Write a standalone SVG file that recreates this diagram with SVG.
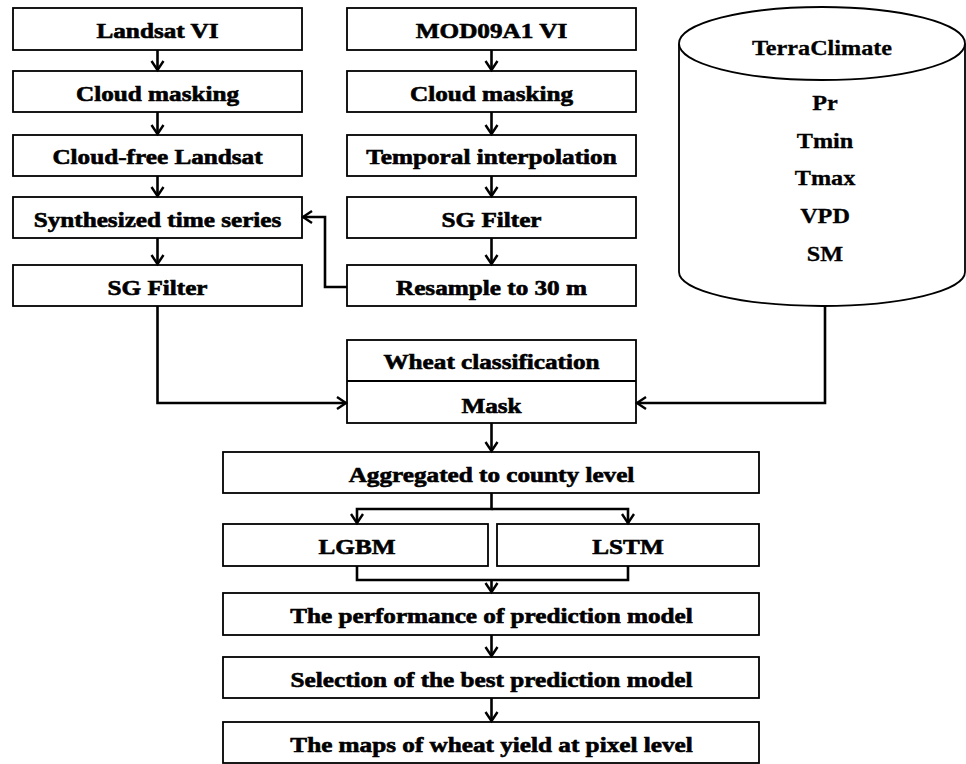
<svg xmlns="http://www.w3.org/2000/svg" width="966" height="764" viewBox="0 0 966 764">
<style>
.box{fill:#fff;stroke:#000;stroke-width:1.8}
.t{font-family:"Liberation Serif","Times New Roman",serif;font-weight:bold;font-size:21px;text-anchor:middle;fill:#000;stroke:#000;stroke-width:0.6}
.c{font-family:"Liberation Serif","Times New Roman",serif;font-weight:bold;font-size:22px;text-anchor:middle;fill:#000;stroke:#000;stroke-width:0.3}
.ln{fill:none;stroke:#000;stroke-width:2.6}
</style>
<defs>
<marker id="ah" markerUnits="userSpaceOnUse" markerWidth="14" markerHeight="16" refX="10" refY="7" orient="auto">
<path d="M1,1 L10,7 L1,13" fill="none" stroke="#000" stroke-width="2.4"/>
</marker>
</defs>
<rect width="966" height="764" fill="#fff"/>

<g id="landsat_vi"><rect class="box" x="13" y="8" width="289" height="42"/><text class="t" transform="translate(157.5,38) scale(1.2,1)">Landsat VI</text></g>
<g id="cloud_masking_l"><rect class="box" x="13" y="71" width="289" height="41"/><text class="t" transform="translate(157.5,100.5) scale(1.2,1)">Cloud masking</text></g>
<g id="cloud_free"><rect class="box" x="13" y="135" width="289" height="41"/><text class="t" transform="translate(157.5,164) scale(1.2,1)">Cloud-free Landsat</text></g>
<g id="synth"><rect class="box" x="13" y="197" width="289" height="41"/><text class="t" transform="translate(157.5,226.5) scale(1.2,1)">Synthesized time series</text></g>
<g id="sg_l"><rect class="box" x="13" y="265" width="289" height="41"/><text class="t" transform="translate(157.5,294.5) scale(1.2,1)">SG Filter</text></g>

<g id="mod09"><rect class="box" x="347" y="8" width="289" height="42"/><text class="t" transform="translate(491.5,38) scale(1.2,1)">MOD09A1 VI</text></g>
<g id="cloud_masking_m"><rect class="box" x="347" y="71" width="289" height="41"/><text class="t" transform="translate(491.5,100.5) scale(1.2,1)">Cloud masking</text></g>
<g id="temporal"><rect class="box" x="347" y="135" width="289" height="41"/><text class="t" transform="translate(491.5,164) scale(1.2,1)">Temporal interpolation</text></g>
<g id="sg_m"><rect class="box" x="347" y="197" width="289" height="41"/><text class="t" transform="translate(491.5,226.5) scale(1.2,1)">SG Filter</text></g>
<g id="resample"><rect class="box" x="347" y="265" width="289" height="41"/><text class="t" transform="translate(491.5,294.5) scale(1.2,1)">Resample to 30 m</text></g>

<g id="terraclimate">
<path d="M679,43.5 V272 A143,34 0 0,0 965,272 V43.5" fill="#fff" stroke="#000" stroke-width="1.8"/>
<ellipse cx="822" cy="43.5" rx="143" ry="36.5" fill="#fff" stroke="#000" stroke-width="1.8"/>
<text class="c" transform="translate(822,55) scale(1.1,1)">TerraClimate</text>
<text class="c" transform="translate(825,110) scale(1.1,1)">Pr</text>
<text class="c" transform="translate(825,148) scale(1.1,1)">Tmin</text>
<text class="c" transform="translate(825,185) scale(1.1,1)">Tmax</text>
<text class="c" transform="translate(825,223) scale(1.1,1)">VPD</text>
<text class="c" transform="translate(825,261) scale(1.1,1)">SM</text>
</g>

<g id="wheat_mask">
<rect class="box" x="347" y="340" width="289" height="83"/>
<line x1="347" y1="381" x2="636" y2="381" stroke="#000" stroke-width="1.8"/>
<text class="t" transform="translate(491.5,369) scale(1.2,1)">Wheat classification</text>
<text class="t" transform="translate(491.5,413) scale(1.2,1)">Mask</text>
</g>

<g id="aggregated"><rect class="box" x="223" y="452" width="536" height="41"/><text class="t" transform="translate(491.5,482) scale(1.2,1)">Aggregated to county level</text></g>
<g id="lgbm"><rect class="box" x="223" y="524" width="265" height="42"/><text class="t" transform="translate(357,554) scale(1.2,1)">LGBM</text></g>
<g id="lstm"><rect class="box" x="497" y="524" width="262" height="42"/><text class="t" transform="translate(628,554) scale(1.2,1)">LSTM</text></g>
<g id="performance"><rect class="box" x="223" y="593" width="536" height="42"/><text class="t" transform="translate(491.5,623) scale(1.2,1)">The performance of prediction model</text></g>
<g id="selection"><rect class="box" x="223" y="657" width="536" height="41"/><text class="t" transform="translate(491.5,687) scale(1.2,1)">Selection of the best prediction model</text></g>
<g id="maps"><rect class="box" x="223" y="722" width="536" height="41"/><text class="t" transform="translate(491.5,752) scale(1.2,1)">The maps of wheat yield at pixel level</text></g>

<g id="connectors">
<path class="ln" d="M157.5,50 V70" marker-end="url(#ah)"/>
<path class="ln" d="M157.5,112 V134" marker-end="url(#ah)"/>
<path class="ln" d="M157.5,176 V196" marker-end="url(#ah)"/>
<path class="ln" d="M157.5,238 V264" marker-end="url(#ah)"/>
<path class="ln" d="M491.5,50 V70" marker-end="url(#ah)"/>
<path class="ln" d="M491.5,112 V134" marker-end="url(#ah)"/>
<path class="ln" d="M491.5,176 V196" marker-end="url(#ah)"/>
<path class="ln" d="M491.5,238 V264" marker-end="url(#ah)"/>
<path class="ln" d="M347,287 H325 V217 H303" marker-end="url(#ah)"/>
<path class="ln" d="M157.5,306 V403 H346" marker-end="url(#ah)"/>
<path class="ln" d="M825,306 V403 H637" marker-end="url(#ah)"/>
<path class="ln" d="M491.5,423 V451" marker-end="url(#ah)"/>
<path class="ln" d="M491.5,493 V509 H357 V523" marker-end="url(#ah)"/>
<path class="ln" d="M491.5,509 H628 V523" marker-end="url(#ah)"/>
<path class="ln" d="M357,566 V580 H628 V566"/>
<path class="ln" d="M491.5,580 V592" marker-end="url(#ah)"/>
<path class="ln" d="M491.5,635 V656" marker-end="url(#ah)"/>
<path class="ln" d="M491.5,698 V721" marker-end="url(#ah)"/>
</g>
</svg>
